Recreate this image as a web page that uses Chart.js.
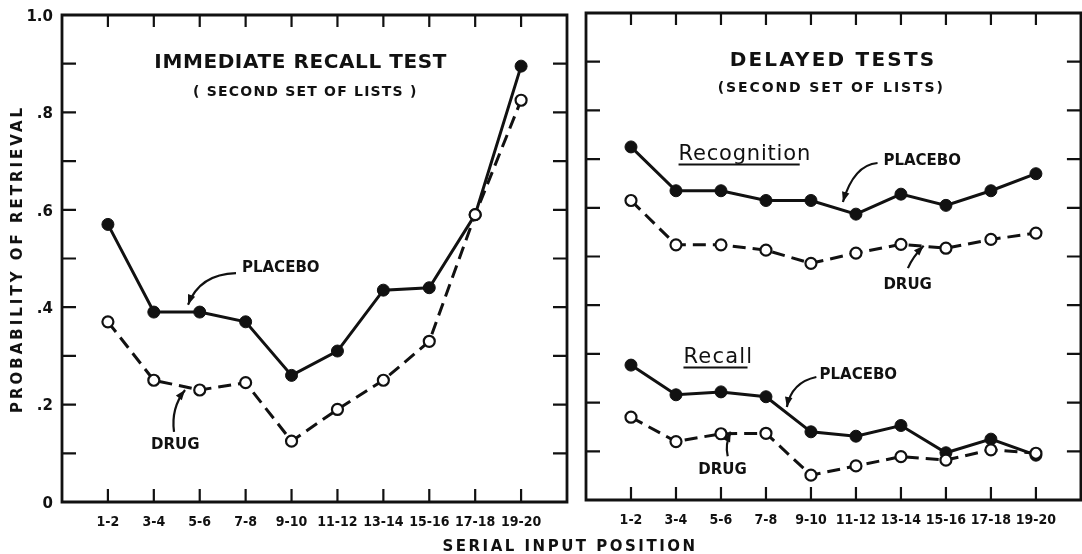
<!doctype html>
<html lang="en">
<head>
<meta charset="utf-8">
<title>Probability of retrieval by serial input position</title>
<script src="https://cdn.jsdelivr.net/npm/chart.js@4.4.1/dist/chart.umd.min.js"></script>
<style>
  html, body { margin: 0; padding: 0; background: #fff; }
  .wrap { position: relative; width: 1082px; height: 554px; }
  .wrap canvas { position: absolute; left: 0; top: 0; }
</style>
</head>
<body>
<div class="wrap">
  <canvas id="immChart" width="1082" height="554"></canvas>
  <canvas id="delChart" width="1082" height="554"></canvas>
</div>

<script>
// serial input positions (pairs of list items)
const positions = ["1-2", "3-4", "5-6", "7-8", "9-10", "11-12", "13-14", "15-16", "17-18", "19-20"];

// immediate recall test, second set of lists
const immPlacebo = [0.57, 0.39, 0.39, 0.37, 0.26, 0.31, 0.435, 0.44, 0.59, 0.895];
const immDrug    = [0.37, 0.25, 0.23, 0.245, 0.125, 0.19, 0.25, 0.33, 0.59, 0.825];

// delayed tests, second set of lists
const recogPlacebo  = [0.725, 0.635, 0.635, 0.615, 0.615, 0.587, 0.628, 0.605, 0.635, 0.67];
const recogDrug     = [0.615, 0.524, 0.524, 0.513, 0.486, 0.507, 0.525, 0.517, 0.535, 0.548];
const recallPlacebo = [0.277, 0.216, 0.222, 0.212, 0.14, 0.131, 0.153, 0.097, 0.125, 0.092];
const recallDrug    = [0.17, 0.12, 0.136, 0.137, 0.051, 0.07, 0.089, 0.082, 0.103, 0.096];

// y axis labels
const yTickValues = [0, 0.2, 0.4, 0.6, 0.8, 1.0];
const yTickLabels = ["0", ".2", ".4", ".6", ".8", "1.0"];

const INK = "#111";

function series(values) {
  return values.map((v, i) => ({ x: i, y: v }));
}

const placeboStyle = {
  borderColor: INK, borderWidth: 3, tension: 0, clip: false,
  pointRadius: 6, pointBackgroundColor: INK, pointBorderColor: INK, pointBorderWidth: 1
};
const drugStyle = {
  borderColor: INK, borderWidth: 3, borderDash: [13, 7], tension: 0, clip: false,
  pointRadius: 5.5, pointBackgroundColor: "#fff", pointBorderColor: INK, pointBorderWidth: 2.2
};

function drawArrow(ctx, x, y, pts) {
  const P = pts.map(p => [x.getPixelForValue(p[0]), y.getPixelForValue(p[1])]);
  ctx.lineWidth = 2.2;
  ctx.beginPath();
  ctx.moveTo(P[0][0], P[0][1]);
  ctx.quadraticCurveTo(P[1][0], P[1][1], P[2][0], P[2][1]);
  ctx.stroke();
  const ang = Math.atan2(P[2][1] - P[1][1], P[2][0] - P[1][0]);
  const len = 10, half = 3.8;
  ctx.beginPath();
  ctx.moveTo(P[2][0], P[2][1]);
  ctx.lineTo(P[2][0] - len * Math.cos(ang) + half * Math.sin(ang), P[2][1] - len * Math.sin(ang) - half * Math.cos(ang));
  ctx.lineTo(P[2][0] - len * Math.cos(ang) - half * Math.sin(ang), P[2][1] - len * Math.sin(ang) + half * Math.cos(ang));
  ctx.closePath();
  ctx.fill();
}

function drawNote(ctx, x, y, n) {
  ctx.font = n.font;
  ctx.letterSpacing = (n.spacing || 0) + "px";
  ctx.textAlign = n.align || "left";
  ctx.textBaseline = n.baseline || "middle";
  ctx.fillText(n.text, x.getPixelForValue(n.at[0]), y.getPixelForValue(n.at[1]));
  if (n.underline) {
    const u = n.underline;
    ctx.lineWidth = 2;
    ctx.beginPath();
    ctx.moveTo(x.getPixelForValue(u[0]), y.getPixelForValue(u[2]));
    ctx.lineTo(x.getPixelForValue(u[1]), y.getPixelForValue(u[2]));
    ctx.stroke();
  }
}

// border, inward ticks, tick labels and notes
const framePlugin = {
  id: "frame",
  afterDraw(chart, args, opts) {
    const { ctx, chartArea: a, scales: { x, y } } = chart;
    const right = x.getPixelForValue(10);
    ctx.save();
    ctx.strokeStyle = INK;
    ctx.fillStyle = INK;

    ctx.lineWidth = 2.8;
    ctx.beginPath();
    ctx.moveTo(a.left, a.top);
    ctx.lineTo(right, a.top);
    ctx.lineTo(right, a.bottom);
    ctx.lineTo(a.left, a.bottom);
    ctx.closePath();
    ctx.stroke();

    ctx.lineWidth = 2.2;
    ctx.beginPath();
    for (let i = 1; i < 10; i++) {
      const py = y.getPixelForValue(i / 10);
      ctx.moveTo(a.left, py); ctx.lineTo(a.left + 14, py);
      ctx.moveTo(right, py); ctx.lineTo(right - 14, py);
    }
    positions.forEach((p, i) => {
      const px = x.getPixelForValue(i);
      ctx.moveTo(px, a.top); ctx.lineTo(px, a.top + 12);
      ctx.moveTo(px, a.bottom); ctx.lineTo(px, a.bottom - 13);
    });
    ctx.stroke();

    ctx.font = 'bold 14px "DejaVu Sans Condensed", "DejaVu Sans"';
    ctx.textAlign = "center";
    ctx.textBaseline = "middle";
    positions.forEach((p, i) => ctx.fillText(p, x.getPixelForValue(i), a.bottom + 20));

    if (opts.yLabels) {
      ctx.font = 'bold 15px "DejaVu Sans"';
      ctx.textAlign = "right";
      yTickValues.forEach((v, i) => ctx.fillText(yTickLabels[i], a.left - 9, y.getPixelForValue(v) + 2));

      ctx.save();
      ctx.font = 'bold 15px "DejaVu Sans"';
      ctx.letterSpacing = "3px";
      ctx.textAlign = "center";
      ctx.translate(18, 259);
      ctx.rotate(-Math.PI / 2);
      ctx.fillText("PROBABILITY OF RETRIEVAL", 0, 0);
      ctx.restore();

      ctx.font = 'bold 15px "DejaVu Sans"';
      ctx.letterSpacing = "2.5px";
      ctx.textAlign = "center";
      ctx.fillText("SERIAL INPUT POSITION", 570, 547);
    }

    (opts.notes || []).forEach(n => drawNote(ctx, x, y, n));
    (opts.arrows || []).forEach(p => drawArrow(ctx, x, y, p));
    ctx.restore();
  }
};

const TITLE = 'bold 20px "DejaVu Sans"';
const SUB = 'bold 14px "DejaVu Sans"';
const LABEL = 'bold 15px "DejaVu Sans"';
const HEAD = '21px "DejaVu Sans"';

function baseOptions(padding, xMax, frame) {
  return {
    responsive: false,
    animation: false,
    events: [],
    layout: { padding: padding },
    plugins: { legend: { display: false }, tooltip: { enabled: false }, frame: frame },
    scales: {
      x: { type: "linear", min: -1, max: xMax, display: false },
      y: { min: 0, max: 1, display: false }
    }
  };
}

new Chart("immChart", {
  type: "line",
  data: {
    datasets: [
      Object.assign({ label: "Drug", data: series(immDrug) }, drugStyle),
      Object.assign({ label: "Placebo", data: series(immPlacebo) }, placeboStyle)
    ]
  },
  options: baseOptions({ left: 62, right: 515, top: 15, bottom: 52 }, 10, {
    yLabels: true,
    notes: [
      { text: "IMMEDIATE RECALL TEST", at: [4.2, 0.902], font: TITLE, spacing: 0.6, align: "center" },
      { text: "( SECOND SET OF LISTS )", at: [4.3, 0.842], font: SUB, spacing: 1.2, align: "center" },
      { text: "PLACEBO", at: [2.92, 0.48], font: LABEL },
      { text: "DRUG", at: [0.94, 0.117], font: LABEL }
    ],
    arrows: [
      [[2.79, 0.47], [2.0, 0.468], [1.745, 0.405]],
      [[1.44, 0.144], [1.37, 0.193], [1.68, 0.23]]
    ]
  }),
  plugins: [framePlugin]
});

new Chart("delChart", {
  type: "line",
  data: {
    datasets: [
      Object.assign({ label: "Recognition drug", data: series(recogDrug) }, drugStyle),
      Object.assign({ label: "Recognition placebo", data: series(recogPlacebo) }, placeboStyle),
      Object.assign({ label: "Recall drug", data: series(recallDrug) }, drugStyle),
      Object.assign({ label: "Recall placebo", data: series(recallPlacebo) }, placeboStyle)
    ]
  },
  options: baseOptions({ left: 586, right: 0, top: 13, bottom: 54 }, 9.853, {
    yLabels: false,
    notes: [
      { text: "DELAYED TESTS", at: [4.49, 0.901], font: TITLE, spacing: 2.2, align: "center" },
      { text: "(SECOND SET OF LISTS)", at: [4.45, 0.846], font: SUB, spacing: 1.9, align: "center" },
      { text: "Recognition", at: [1.057, 0.698], font: HEAD, spacing: 0.8, baseline: "alphabetic", underline: [1.057, 3.75, 0.689] },
      { text: "PLACEBO", at: [5.61, 0.696], font: LABEL },
      { text: "DRUG", at: [5.61, 0.4415], font: LABEL },
      { text: "Recall", at: [1.166, 0.281], font: HEAD, spacing: 1.2, baseline: "alphabetic", underline: [1.166, 2.59, 0.272] },
      { text: "PLACEBO", at: [4.19, 0.2567], font: LABEL },
      { text: "DRUG", at: [1.495, 0.0616], font: LABEL }
    ],
    arrows: [
      [[5.48, 0.692], [4.95, 0.688], [4.71, 0.612]],
      [[6.155, 0.476], [6.26, 0.499], [6.505, 0.522]],
      [[4.12, 0.2526], [3.57, 0.242], [3.464, 0.191]],
      [[2.15, 0.09], [2.085, 0.113], [2.217, 0.14]]
    ]
  }),
  plugins: [framePlugin]
});
</script>
</body>
</html>
